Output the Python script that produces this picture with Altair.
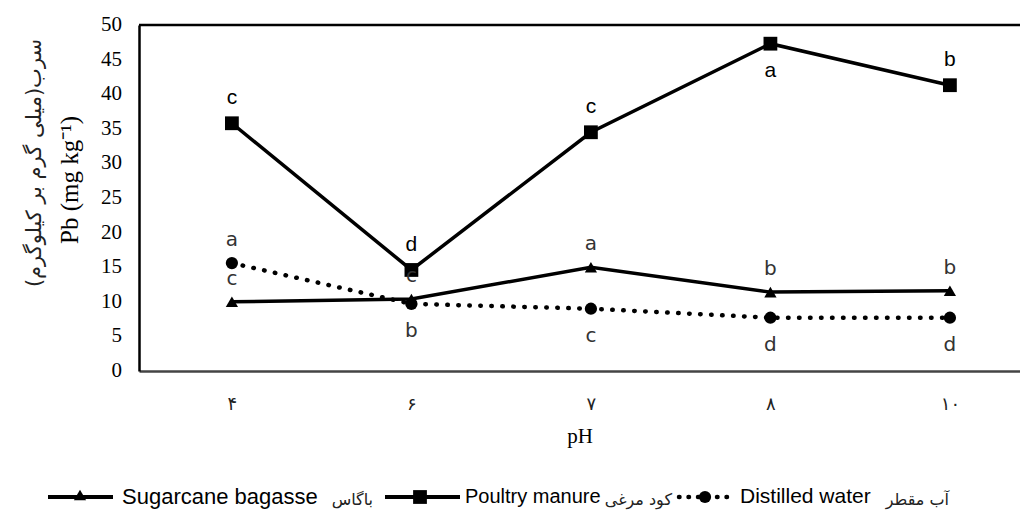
import altair as alt
import pandas as pd

ph = ["۴", "۶", "۷", "۸", "۱۰"]
sugarcane = [10.0, 10.4, 15.0, 11.4, 11.6]
poultry = [35.8, 14.6, 34.5, 47.3, 41.3]
distilled = [15.6, 9.7, 9.0, 7.7, 7.7]
sug_letters = ["c", "c", "a", "b", "b"]
pou_letters = ["c", "d", "c", "a", "b"]
dis_letters = ["a", "b", "c", "d", "d"]
sug_side = ["above", "above", "above", "above", "above"]
pou_side = ["above", "above", "above", "below", "above"]
dis_side = ["above", "below", "below", "below", "below"]
y_ticks = [0, 5, 10, 15, 20, 25, 30, 35, 40, 45, 50]

rows = []
for name, vals, lets, sides in [("Sugarcane", sugarcane, sug_letters, sug_side),
                                ("Poultry", poultry, pou_letters, pou_side),
                                ("Distilled", distilled, dis_letters, dis_side)]:
    for p, v, l, s in zip(ph, vals, lets, sides):
        rows.append({"series": name, "ph": p, "value": v, "letter": l, "side": s})
df = pd.DataFrame(rows)
tick_df = pd.DataFrame({"value": y_ticks, "label": [str(t) for t in y_ticks]})

W, H = 881, 346

x = alt.X("ph:N", sort=ph,
          scale=alt.Scale(type="point", padding=0.454, align=0.57),
          axis=alt.Axis(title="pH", labelAngle=0, ticks=False, domainColor="#444",
                        domainWidth=2.5, labelFont="DejaVu Sans", labelFontSize=18,
                        labelFontWeight="normal", labelColor="#222", labelPadding=24,
                        titleFont="Liberation Serif", titleFontSize=21,
                        titleFontWeight="normal", titleColor="black",
                        titlePadding=12, grid=False))
yscale = alt.Scale(domain=[0, 50], nice=False)
y = alt.Y("value:Q", scale=yscale,
          axis=alt.Axis(title=None, labels=False, ticks=False,
                        domainColor="black", domainWidth=2.5, grid=False))

base = alt.Chart(df).encode(x=x, y=y)

def series_layers(name, dash, shape, size, sw):
    d = base.transform_filter(alt.datum.series == name)
    line = d.mark_line(color="black", strokeWidth=sw, strokeDash=dash,
                       strokeCap="round" if dash else "butt")
    pts = d.mark_point(shape=shape, filled=True, opacity=1, color="black", size=size)
    return line + pts

lines = (series_layers("Sugarcane", [], "triangle-up", 150, 3.5)
         + series_layers("Distilled", [0.5, 10.5], "circle", 150, 4.5)
         + series_layers("Poultry", [], "square", 190, 3.5))

def letters(names, side, dy, font, size, color):
    d = base.transform_filter(alt.FieldOneOfPredicate(field="series", oneOf=names)) \
            .transform_filter(alt.datum.side == side)
    return d.mark_text(dy=dy, font=font, fontSize=size, color=color,
                       baseline="middle").encode(text="letter:N")

texts = (letters(["Poultry"], "above", -25, "Liberation Sans", 21, "black")
         + letters(["Poultry"], "below", 27, "Liberation Sans", 21, "black")
         + letters(["Sugarcane", "Distilled"], "above", -23, "DejaVu Sans", 20, "#333")
         + letters(["Sugarcane", "Distilled"], "below", 27, "DejaVu Sans", 20, "#333"))

ylabels = alt.Chart(tick_df).mark_text(align="right", baseline="middle",
                                       font="Liberation Serif", fontSize=21,
                                       color="black").encode(
    x=alt.value(-17), y=alt.Y("value:Q", scale=yscale), text="label:N")

one = alt.Data(values=[{}])
top = alt.Chart(one).mark_rule(color="black", strokeWidth=2.5).encode(
    x=alt.value(0), x2=alt.value(W), y=alt.value(0))

ytitle1 = alt.Chart(one).mark_text(angle=270, font="DejaVu Sans", fontSize=21,
                                   color="#222").encode(
    x=alt.value(-104), y=alt.value(138), text=alt.value("سرب(میلی گرم بر کیلوگرم)"))
ytitle2 = alt.Chart(one).mark_text(angle=270, font="Liberation Serif", fontSize=25,
                                   color="black").encode(
    x=alt.value(-69), y=alt.value(155), text=alt.value("Pb (mg kg⁻¹)"))

LY = 472
leg_font = "Liberation Sans"
def en(xv, s, size=22):
    return alt.Chart(one).mark_text(align="left", font=leg_font, fontSize=size,
                                    color="black").encode(
        x=alt.value(xv), y=alt.value(LY), text=alt.value(s))
def fa(xv, s):
    return alt.Chart(one).mark_text(align="right", font="DejaVu Sans", fontSize=16,
                                    color="#222").encode(
        x=alt.value(xv), y=alt.value(LY + 3), text=alt.value(s))

legend = (
    alt.Chart(one).mark_rule(color="black", strokeWidth=4).encode(
        x=alt.value(-91), x2=alt.value(-26), y=alt.value(LY))
    + alt.Chart(one).mark_point(shape="triangle-up", filled=True, opacity=1, color="black",
                                size=150).encode(x=alt.value(-59), y=alt.value(LY - 2))
    + en(-17, "Sugarcane bagasse") + fa(234, "باگاس")
    + alt.Chart(one).mark_rule(color="black", strokeWidth=4).encode(
        x=alt.value(246), x2=alt.value(321), y=alt.value(LY))
    + alt.Chart(one).mark_point(shape="square", filled=True, opacity=1, color="black",
                                size=190).encode(x=alt.value(281), y=alt.value(LY))
    + en(326, "Poultry manure", 20) + fa(533, "کود مرغی")
    + alt.Chart(one).mark_rule(color="black", strokeWidth=4.5, strokeDash=[0.5, 9],
                               strokeCap="round").encode(
        x=alt.value(540), x2=alt.value(592), y=alt.value(LY))
    + alt.Chart(one).mark_point(shape="circle", filled=True, opacity=1, color="black",
                                size=150).encode(x=alt.value(566), y=alt.value(LY))
    + en(601, "Distilled water", 21) + fa(810, "آب مقطر")
)

chart = alt.layer(lines, top, texts, ylabels, ytitle1, ytitle2, legend).properties(
    width=W, height=H,
    autosize=alt.AutoSizeParams(type="none"),
    padding={"left": 131, "top": 17, "right": 0, "bottom": 141},
    background="white",
).configure_view(stroke=None)

chart.save("out.html", embed_options={"renderer": "svg", "actions": False})
